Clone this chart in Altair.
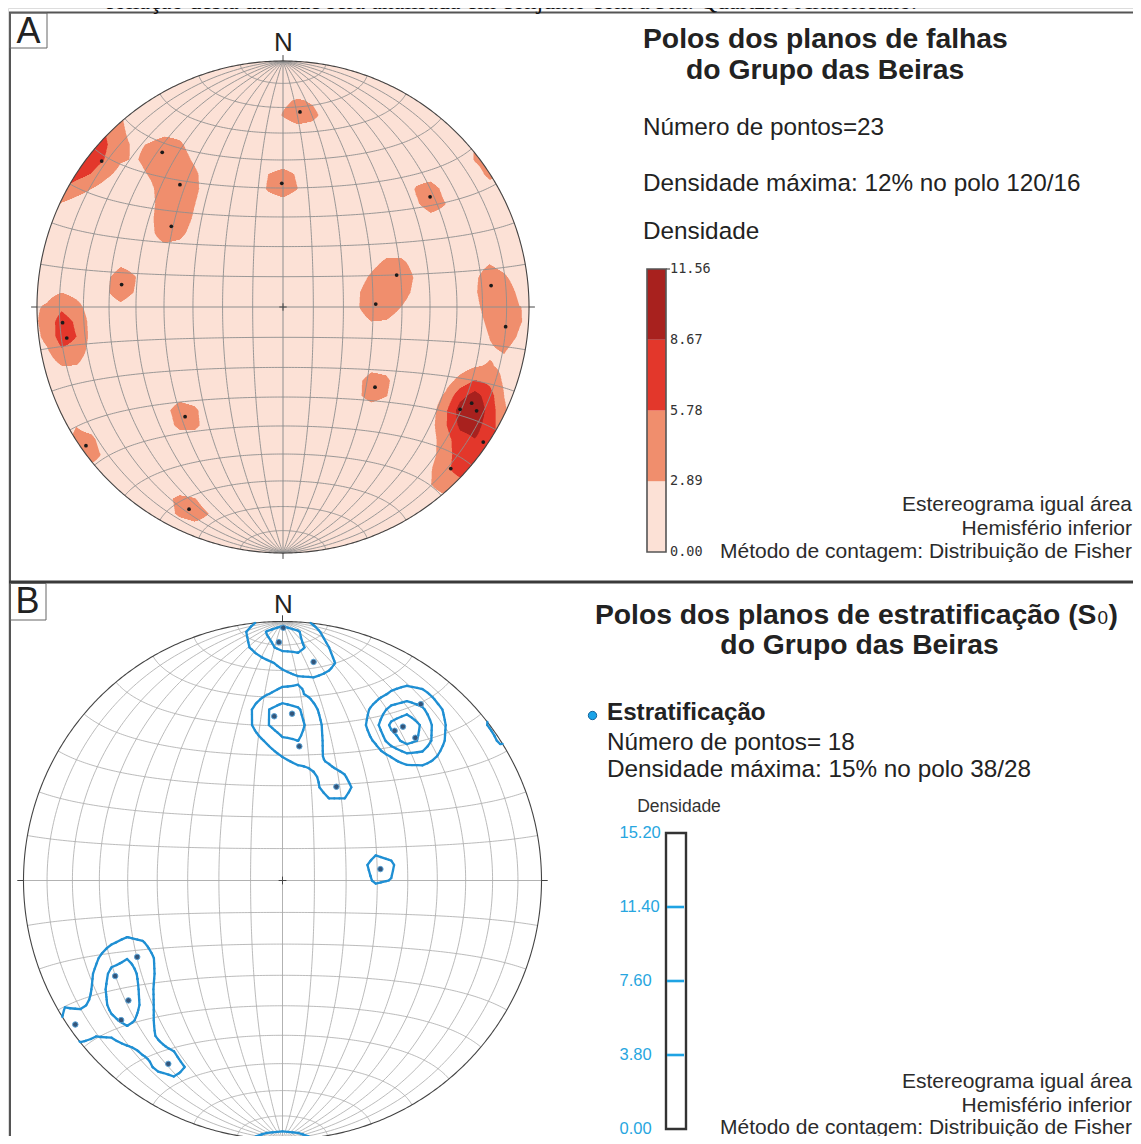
import numpy as np
import pandas as pd
import altair as alt

# ------------------------------------------------------------------ data
# Poles, in equal-area projected coordinates
# (unit primitive circle, x = East, y = North, lower hemisphere)
falhas_x = [0.069, -0.005, -0.491, -0.419, -0.454, -0.737, 0.598, -0.656, 0.462, 0.377, 0.846,
            -0.896, -0.879, 0.905, 0.374, -0.398, -0.801, -0.382, 0.720, 0.767, 0.787, 0.814, 0.682]
falhas_y = [0.793, 0.503, 0.629, 0.497, 0.328, 0.593, 0.448, 0.091, 0.130, 0.012, 0.087,
            -0.064, -0.126, -0.080, -0.326, -0.446, -0.564, -0.822, -0.416, -0.391, -0.422, -0.549, -0.657]

estrat_x = [0.003, -0.014, 0.120, -0.032, 0.037, 0.065, 0.208, 0.534, 0.433, 0.465, 0.513,
            0.378, -0.561, -0.646, -0.595, -0.623, -0.800, -0.441]
estrat_y = [0.976, 0.920, 0.844, 0.634, 0.644, 0.518, 0.362, 0.681, 0.578, 0.594, 0.551,
            0.044, -0.295, -0.369, -0.463, -0.539, -0.556, -0.708]

niveis_a = [0.00, 2.89, 5.78, 8.67, 11.56]
cores_a = ["#fce1d6", "#f08e6d", "#e3372b", "#a8211e"]
niveis_b = [0.00, 3.80, 7.60, 11.40, 15.20]
kappa_a = 76.0
kappa_b = 87.0
fator_densidade = 92.0   # peak % contributed by one pole = fator / N
passo_grelha = 0.06      # counting-grid spacing (fraction of the net radius)

texto_topo = "foliação desta unidade será analisada em conjunto com a Fm. Quartzito Armoricano."
titulo_a = ["Polos dos planos de falhas", "do Grupo das Beiras"]
info_a = ["Número de pontos=23", "Densidade máxima: 12% no polo 120/16", "Densidade"]
titulo_b = ["Polos dos planos de estratificação (S", "0", ")", "do Grupo das Beiras"]
info_b = ["Estratificação", "Número de pontos= 18", "Densidade máxima: 15% no polo 38/28", "Densidade"]
rodape = ["Estereograma igual área", "Hemisfério inferior", "Método de contagem: Distribuição de Fisher"]
rotulos_painel = ["A", "B"]
norte = "N"

# ------------------------------------------------------------------ layout
OFF = 8
W, H = 1125, 1128
A_CX, A_CY, A_R = 283.0, 307.0, 246.0
B_CX, B_CY, B_R = 282.5, 880.5, 259.0
FONT = "Liberation Sans"
DUMMY = pd.DataFrame({"d": [0]})


def scales(cx, cy, R):
    sx = alt.Scale(domain=[-1, 1], range=[cx - R - OFF, cx + R - OFF], nice=False, zero=False)
    sy = alt.Scale(domain=[-1, 1], range=[cy + R - OFF, cy - R - OFF], nice=False, zero=False)
    return sx, sy


# ------------------------------------------------------------------ geometry
def proj(vx, vy, vz):
    f = 1.0 / np.sqrt(1.0 - vz)
    return vx * f, vy * f


def unproj(X, Y):
    r2 = X ** 2 + Y ** 2
    f = np.sqrt(np.clip(2.0 - r2, 0, None))
    return X * f, Y * f, r2 - 1.0


def fisher(X, Y, px, py, kappa):
    vx, vy, vz = unproj(X, Y)
    D = np.zeros_like(X, dtype=float)
    for a, b in zip(px, py):
        ax, ay, az = unproj(np.array(a), np.array(b))
        c = np.abs(vx * ax + vy * ay + vz * az)
        D += np.exp(kappa * (c - 1.0))
    return D * fator_densidade / len(px)


def coarse_grid(px, py, kappa, s):
    n = int(np.ceil(1.06 / s))
    g = np.arange(-n, n + 1) * s
    X, Y = np.meshgrid(g, g)
    return g, fisher(X, Y, px, py, kappa)


def bilinear(g, G, X, Y):
    s = g[1] - g[0]
    n = len(g)
    fx = (X - g[0]) / s
    fy = (Y - g[0]) / s
    ix = np.clip(np.floor(fx).astype(int), 0, n - 2)
    iy = np.clip(np.floor(fy).astype(int), 0, n - 2)
    tx = fx - ix
    ty = fy - iy
    return (G[iy, ix] * (1 - tx) * (1 - ty) + G[iy, ix + 1] * tx * (1 - ty)
            + G[iy + 1, ix] * (1 - tx) * ty + G[iy + 1, ix + 1] * tx * ty)


def grid_df():
    t = np.linspace(0, np.pi, 181)
    recs = []
    gid = 0
    for d in range(10, 90, 10):
        dr = np.radians(d)
        for s in (1, -1):
            x, y = proj(s * np.cos(dr) * np.sin(t), np.cos(t), -np.sin(dr) * np.sin(t))
            recs.append(pd.DataFrame({"x": x, "y": y, "g": gid, "o": np.arange(len(t))}))
            gid += 1
    for b in range(10, 180, 10):
        if b == 90:
            continue
        br = np.radians(b)
        x, y = proj(np.sin(br) * np.cos(t), np.cos(br) * np.ones_like(t), -np.sin(br) * np.sin(t))
        recs.append(pd.DataFrame({"x": x, "y": y, "g": gid, "o": np.arange(len(t))}))
        gid += 1
    return pd.concat(recs, ignore_index=True)


def primitive_df():
    a = np.linspace(0, 2 * np.pi, 721)
    return pd.DataFrame({"x": np.cos(a), "y": np.sin(a), "o": np.arange(len(a))})


AXES = pd.DataFrame({"x": [0.0, -1.0], "y": [-1.0, 0.0], "x2": [0.0, 1.0], "y2": [1.0, 0.0]})
TICKS = pd.DataFrame({
    "x": [0.0, 0.0, 1.0, -1.0, -0.015, 0.0],
    "y": [1.0, -1.0, 0.0, 0.0, 0.0, -0.015],
    "x2": [0.0, 0.0, 1.024, -1.024, 0.015, 0.0],
    "y2": [1.024, -1.024, 0.0, 0.0, 0.0, 0.015],
})


def density_runs(px, py, kappa, R, levels, colors, s):
    g, G = coarse_grid(px, py, kappa, s)
    ny = int(round(2 * R))
    dy = 2.0 / ny
    yc = 1.0 - (np.arange(ny) + 0.5) * dy
    xs = np.linspace(-1, 1, 1601)
    hx = (xs[1] - xs[0]) / 2
    X, Y = np.meshgrid(xs, yc)
    D = bilinear(g, G, X, Y)
    recs = []
    for ci in range(1, len(levels) - 1):
        M = D >= levels[ci]
        for j in range(ny):
            row = M[j]
            if not row.any():
                continue
            chord = np.sqrt(max(1 - yc[j] ** 2, 0))
            d = np.diff(np.concatenate([[0], row.astype(int), [0]]))
            starts = np.nonzero(d == 1)[0]
            ends = np.nonzero(d == -1)[0] - 1
            for a, e in zip(starts, ends):
                x0 = max(xs[a] - hx, -chord)
                x1 = min(xs[e] + hx, chord)
                if x1 > x0:
                    recs.append((x0, x1, yc[j] + dy / 2, yc[j] - dy / 2, colors[ci]))
    return pd.DataFrame(recs, columns=["x", "x2", "y", "y2", "cor"])


SEG = {1: [(3, 0)], 2: [(0, 1)], 3: [(3, 1)], 4: [(1, 2)], 5: [(3, 0), (1, 2)], 6: [(0, 2)],
       7: [(3, 2)], 8: [(2, 3)], 9: [(0, 2)], 10: [(0, 1), (2, 3)], 11: [(1, 2)], 12: [(1, 3)],
       13: [(0, 1)], 14: [(3, 0)]}


def _interp(p, q, vp, vq, L):
    if vq == vp:
        return (p + q) / 2
    return p + (L - vp) / (vq - vp) * (q - p)


def clip_circle(p, q):
    ip = p[0] ** 2 + p[1] ** 2 <= 1
    iq = q[0] ** 2 + q[1] ** 2 <= 1
    if ip and iq:
        return p, q
    if not ip and not iq:
        return None
    dx, dy = q[0] - p[0], q[1] - p[1]
    a = dx * dx + dy * dy
    b = 2 * (p[0] * dx + p[1] * dy)
    c = p[0] ** 2 + p[1] ** 2 - 1
    disc = b * b - 4 * a * c
    if a == 0 or disc < 0:
        return None
    sq = np.sqrt(disc)
    if ip:
        t = (-b + sq) / (2 * a)
        return p, (p[0] + t * dx, p[1] + t * dy)
    t = (-b - sq) / (2 * a)
    return (p[0] + t * dx, p[1] + t * dy), q


def contour_df(px, py, kappa, levels, s):
    g0, G0 = coarse_grid(px, py, kappa, s)
    xs = np.linspace(g0[0], g0[-1], (len(g0) - 1) * 3 + 1)
    X, Y = np.meshgrid(xs, xs)
    G = bilinear(g0, G0, X, Y)
    recs = []
    for L in levels:
        B = G >= L
        idx = B[:-1, :-1] * 1 + B[:-1, 1:] * 2 + B[1:, 1:] * 4 + B[1:, :-1] * 8
        iys, ixs = np.nonzero((idx > 0) & (idx < 15))
        for iy, ix in zip(iys, ixs):
            va, vb, vc, vd = G[iy, ix], G[iy, ix + 1], G[iy + 1, ix + 1], G[iy + 1, ix]
            x0, x1, y0, y1 = xs[ix], xs[ix + 1], xs[iy], xs[iy + 1]
            E = [(_interp(x0, x1, va, vb, L), y0), (x1, _interp(y0, y1, vb, vc, L)),
                 (_interp(x0, x1, vd, vc, L), y1), (x0, _interp(y0, y1, va, vd, L))]
            for i, j in SEG[int(idx[iy, ix])]:
                c = clip_circle(E[i], E[j])
                if c:
                    recs.append((c[0][0], c[0][1], c[1][0], c[1][1], L))
    return pd.DataFrame(recs, columns=["x", "y", "x2", "y2", "nivel"])


# ------------------------------------------------------------------ helpers
def T(s, x, y, size, weight="normal", align="left", color="#222222", font=FONT, baseline="middle"):
    return alt.Chart(pd.DataFrame({"t": [s]})).mark_text(
        align=align, baseline=baseline, fontSize=size, fontWeight=weight, font=font, color=color
    ).encode(text="t:N", x=alt.value(x - OFF), y=alt.value(y - OFF))


def hline(x1, x2, y, color, w):
    return alt.Chart(DUMMY).mark_rule(color=color, strokeWidth=w).encode(
        x=alt.value(x1 - OFF), x2=alt.value(x2 - OFF), y=alt.value(y - OFF))


def vline(x, y1, y2, color, w):
    return alt.Chart(DUMMY).mark_rule(color=color, strokeWidth=w).encode(
        x=alt.value(x - OFF), y=alt.value(y1 - OFF), y2=alt.value(y2 - OFF))


def box(x1, y1, x2, y2, color, w):
    return alt.Chart(DUMMY).mark_rect(fillOpacity=0, stroke=color, strokeWidth=w).encode(
        x=alt.value(x1 - OFF), x2=alt.value(x2 - OFF), y=alt.value(y1 - OFF), y2=alt.value(y2 - OFF))


def net(cx, cy, R, bg, grid_color, grid_w, extra_layers_fn):
    sx, sy = scales(cx, cy, R)
    X = lambda f="x": alt.X(f + ":Q", scale=sx, axis=None)
    Y = lambda f="y": alt.Y(f + ":Q", scale=sy, axis=None)
    layers = []
    if bg is not None:
        layers.append(alt.Chart(pd.DataFrame({"x": [0.0], "y": [0.0], "t": [1.0]}))
                      .mark_arc(radius=R, fill=bg, stroke=bg)
                      .encode(x=X(), y=Y(), theta=alt.Theta("t:Q")))
    layers += extra_layers_fn(X, Y, "under")
    layers.append(alt.Chart(grid_df()).mark_line(color=grid_color, strokeWidth=grid_w)
                  .encode(x=X(), y=Y(), detail="g:N", order="o:Q"))
    layers.append(alt.Chart(AXES).mark_rule(color=grid_color, strokeWidth=grid_w + 0.1)
                  .encode(x=X(), y=Y(), x2=alt.X2("x2:Q"), y2=alt.Y2("y2:Q")))
    layers.append(alt.Chart(TICKS).mark_rule(color="#444444", strokeWidth=1)
                  .encode(x=X(), y=Y(), x2=alt.X2("x2:Q"), y2=alt.Y2("y2:Q")))
    layers.append(alt.Chart(primitive_df()).mark_line(color="#444444", strokeWidth=1.1)
                  .encode(x=X(), y=Y(), order="o:Q"))
    layers += extra_layers_fn(X, Y, "over")
    return alt.layer(*layers)


# ------------------------------------------------------------------ panel A net
dens_a = density_runs(falhas_x, falhas_y, kappa_a, A_R, niveis_a, cores_a, passo_grelha)
pts_a = pd.DataFrame({"x": falhas_x, "y": falhas_y})


def extras_a(X, Y, where):
    if where == "under":
        return [alt.Chart(dens_a).mark_rect(strokeWidth=0)
                .encode(x=X(), x2=alt.X2("x2:Q"), y=Y(), y2=alt.Y2("y2:Q"),
                        color=alt.Color("cor:N", scale=None, legend=None))]
    return [alt.Chart(pts_a).mark_circle(size=14, color="#1a1a1a", opacity=1).encode(x=X(), y=Y())]


net_a = net(A_CX, A_CY, A_R, cores_a[0], "#8e8e8e", 0.9, extras_a)

# ------------------------------------------------------------------ panel B net
cont_b = contour_df(estrat_x, estrat_y, kappa_b, niveis_b[1:4], passo_grelha)
pts_b = pd.DataFrame({"x": estrat_x, "y": estrat_y})


def extras_b(X, Y, where):
    if where == "under":
        return []
    return [
        alt.Chart(cont_b).mark_rule(color="#1f8fd3", strokeWidth=2.3, strokeCap="round")
        .encode(x=X(), y=Y(), x2=alt.X2("x2:Q"), y2=alt.Y2("y2:Q")),
        alt.Chart(pts_b).mark_circle(size=30, fill="#33557a", stroke="#5aa3d6", strokeWidth=1, opacity=1)
        .encode(x=X(), y=Y()),
    ]


net_b = net(B_CX, B_CY, B_R, None, "#a9a9a9", 0.8, extras_b)

# ------------------------------------------------------------------ legend A (filled bands)
sy_la = alt.Scale(domain=[niveis_a[0], niveis_a[-1]], range=[552 - OFF, 269 - OFF], nice=False, zero=False)
bands_a = pd.DataFrame({"lo": niveis_a[:-1], "hi": niveis_a[1:], "cor": cores_a})
labs_a = pd.DataFrame({"v": niveis_a, "t": [f"{v:.2f}" for v in niveis_a]})
leg_a = alt.layer(
    alt.Chart(bands_a).mark_rect(strokeWidth=0).encode(
        x=alt.value(647 - OFF), x2=alt.value(666 - OFF),
        y=alt.Y("lo:Q", scale=sy_la, axis=None), y2="hi:Q",
        color=alt.Color("cor:N", scale=None, legend=None)),
    alt.Chart(pd.DataFrame({"lo": [niveis_a[0]], "hi": [niveis_a[-1]]})).mark_rect(
        fillOpacity=0, stroke="#555555", strokeWidth=1.6).encode(
        x=alt.value(647 - OFF), x2=alt.value(666 - OFF),
        y=alt.Y("lo:Q", scale=sy_la, axis=None), y2="hi:Q"),
    alt.Chart(pd.DataFrame({"v": [niveis_a[-1]]})).mark_rule(color="#555555", strokeWidth=1.2).encode(
        x=alt.value(666 - OFF), x2=alt.value(670 - OFF), y=alt.Y("v:Q", scale=sy_la, axis=None)),
    alt.Chart(labs_a).mark_text(align="left", baseline="middle", font="DejaVu Sans Mono",
                                fontSize=13.5, color="#333333").encode(
        x=alt.value(670 - OFF), y=alt.Y("v:Q", scale=sy_la, axis=None), text="t:N"),
)

# ------------------------------------------------------------------ legend B (contour levels)
sy_lb = alt.Scale(domain=[niveis_b[0], niveis_b[-1]], range=[1129 - OFF, 833 - OFF], nice=False, zero=False)
labs_b = pd.DataFrame({"v": niveis_b, "t": [f"{v:.2f}" for v in niveis_b]})
leg_b = alt.layer(
    alt.Chart(pd.DataFrame({"lo": [niveis_b[0]], "hi": [niveis_b[-1]]})).mark_rect(
        fill="#ffffff", stroke="#333333", strokeWidth=2.4).encode(
        x=alt.value(666 - OFF), x2=alt.value(686 - OFF),
        y=alt.Y("lo:Q", scale=sy_lb, axis=None), y2="hi:Q"),
    alt.Chart(pd.DataFrame({"v": niveis_b[1:4]})).mark_rule(color="#1fa3e3", strokeWidth=2.6).encode(
        x=alt.value(667 - OFF), x2=alt.value(684 - OFF), y=alt.Y("v:Q", scale=sy_lb, axis=None)),
    alt.Chart(labs_b).mark_text(align="left", baseline="middle", font=FONT,
                                fontSize=16.5, color="#27a6e0").encode(
        x=alt.value(619.5 - OFF), y=alt.Y("v:Q", scale=sy_lb, axis=None), text="t:N"),
)

# ------------------------------------------------------------------ texts & frame
texts = [
    T(texto_topo, 106, 9, 24, font="Liberation Serif", color="#111111", baseline="alphabetic"),
    # panel A
    T(rotulos_painel[0], 28.5, 31.5, 36, color="#222222", align="center"),
    T(norte, 283.5, 42.5, 26, align="center"),
    T(titulo_a[0], 643, 39.5, 28.3, weight="bold"),
    T(titulo_a[1], 686, 71, 28.3, weight="bold"),
    T(info_a[0], 643, 127.5, 24.3),
    T(info_a[1], 643, 183.5, 24.3),
    T(info_a[2], 643, 231.5, 24.3),
    T(rodape[0], 1132, 505, 21, align="right", color="#2b2b2b"),
    T(rodape[1], 1132, 528.5, 21, align="right", color="#2b2b2b"),
    T(rodape[2], 1132, 552, 21, align="right", color="#2b2b2b"),
    # panel B
    T(rotulos_painel[1], 27.5, 601.5, 36, color="#222222", align="center"),
    T(norte, 283.5, 605, 26, align="center"),
    T(titulo_b[0], 1096.5, 624, 28.3, weight="bold", align="right", baseline="alphabetic"),
    T(titulo_b[1], 1097.5, 624, 19, align="left", baseline="alphabetic"),
    T(titulo_b[2], 1108.5, 624, 28.3, weight="bold", align="left", baseline="alphabetic"),
    T(titulo_b[3], 859.5, 646, 28.3, weight="bold", align="center"),
    T(info_b[0], 607, 713, 24.2, weight="bold"),
    T(info_b[1], 607, 742.5, 24.3),
    T(info_b[2], 607, 770, 24.3),
    T(info_b[3], 679, 806.5, 17.5, align="center", color="#333333"),
    T(rodape[0], 1132, 1082, 21, align="right", color="#2b2b2b"),
    T(rodape[1], 1132, 1105.5, 21, align="right", color="#2b2b2b"),
    T(rodape[2], 1132, 1127.5, 21, align="right", color="#2b2b2b"),
]

bullet = alt.Chart(DUMMY).mark_circle(size=70, fill="#1aa3e8", stroke="#17649a", strokeWidth=1, opacity=1).encode(
    x=alt.value(592.5 - OFF), y=alt.value(715.5 - OFF))

frame = [
    hline(9, 1141, 12.5, "#555555", 2),
    vline(10, 12, 1144, "#555555", 2),
    hline(9, 1141, 582, "#3a3a3a", 3),
    box(10, 13, 47, 48, "#666666", 1),
    box(10, 583.5, 46, 620, "#666666", 1),
]

chart = alt.layer(
    net_a, net_b, leg_a, leg_b, bullet, *frame, *texts
).resolve_scale(
    x="independent", y="independent"
).properties(
    width=W, height=H, padding=0, autosize=alt.AutoSizeParams(type="none")
).configure_view(strokeWidth=0).configure(background="#ffffff")

chart.save("out.html", embed_options={"renderer": "svg", "actions": False})
